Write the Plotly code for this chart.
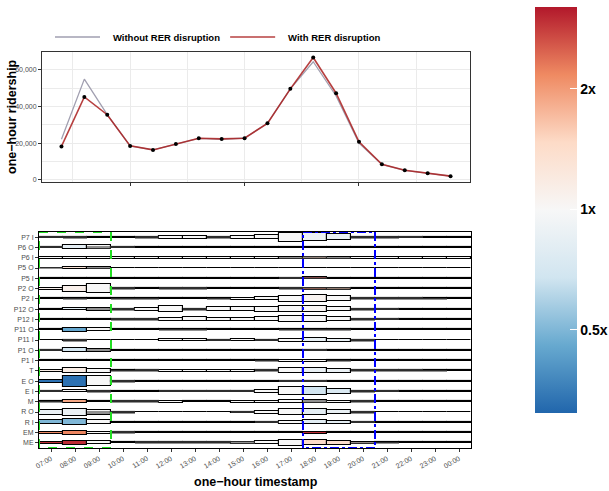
import math
import plotly.graph_objects as go

# ---------------- data ----------------
HOURS = ["07:00", "08:00", "09:00", "10:00", "11:00", "12:00", "13:00", "14:00", "15:00",
         "16:00", "17:00", "18:00", "19:00", "20:00", "21:00", "22:00", "23:00", "00:00"]

WITHOUT_RER = [22200, 55000, 35600, 18600, 16400, 19600, 22700, 22200, 22900,
               30900, 49700, 64500, 45800, 20100, 8500, 5200, 3700, 2100]
WITH_RER = [18300, 45300, 35600, 18600, 16400, 19600, 22800, 22400, 22800,
            30900, 49700, 66800, 47300, 20800, 8600, 5300, 3700, 2100]

ROWS = ["P7 I", "P6 O", "P6 I", "P5 O", "P5 I", "P2 O", "P2 I", "P12 O", "P12 I", "P11 O",
        "P11 I", "P1 O", "P1 I", "T", "E O", "E I", "M", "R O", "R I", "EM", "ME"]

# ridership per station flow and hour (with disruption, hundreds of trips)
RIDE = [
    [1, 1, 1, 1, 1, 3, 3, 1, 3, 4, 9, 8.5, 6, 1, 1, .6, .6, .6],        # P7 I
    [1, 4, 4, .6, .6, .6, .6, .6, .6, .6, .6, .6, .6, .6, .6, .6, .6, .6],  # P6 O
    [1.8, 1.8, 1.8, 1.8, 1.8, 1.8, 1.8, 1.8, 1.8, 1.8, 1.8, 1.8, 1.8, 1.8, 1.8, 1.8, 1.8, 1.8],  # P6 I
    [.6, 2, 2, .6, .6, .6, .6, .6, .6, .6, .6, .6, .6, .6, .6, .6, .6, .6],  # P5 O
    [.6, .6, .6, .6, .6, .6, .6, .6, .6, .6, .6, 2, .6, .6, .6, .6, .6, .6],  # P5 I
    [2, 6, 9, 1, 1.5, 1, 1, 1, 1, 1, 1, 2, 2, 1.5, 1.5, 1.5, 1.5, 1.5],   # P2 O
    [.6, 1, .6, .6, .6, 1, 1, 1, 2, 3, 6, 7, 5, 1, 1, 1, .6, .6],         # P2 I
    [.6, 2, 3, 1, 3, 6, 1, 4, 4, 5, 6, 6, 4, 1, .6, .6, .6, .6],          # P12 O
    [.6, .6, .6, 1, 1, 3, 4, 3, 3, 4, 6, 6, 4, 1, 1, .6, .6, .6],         # P12 I
    [1, 4, 3, .6, .6, 1, 1, .6, .6, .6, 1, 1, 1, .6, .6, .6, .6, .6],     # P11 O
    [.6, 1, .6, .6, .6, 2, 2, 1, 2, 1, 3, 4, 3, 1, .6, .6, .6, .6],       # P11 I
    [1, 4, 3, .6, .6, .6, .6, .6, .6, .6, .6, 1, .6, .6, .6, .6, .6, .6],  # P1 O
    [.6, .6, .6, .6, .6, .6, .6, .6, .6, 1, 2, 2, 1, .6, .6, .6, .6, .6],  # P1 I
    [2, 5, 4, 1, 1, 2, 2, 2, 2, 1, 5, 5, 4, 1, 1, 1, .6, .6],             # T
    [3, 11, 10, 1, .6, .6, .6, .6, .6, .6, 1, 1, .6, .6, .6, .6, .6, .6],  # E O
    [1, 2, 1, .6, .6, 1, 1, 1, 1, 3, 8, 8, 5, 1, .6, .6, .6, .6],         # E I
    [1, 3, 1, 1, 1, 2, 1, 1, 2, 2, 3, 3, 2, 1, .6, .6, .6, .6],           # M
    [5, 7, 5, 1, .6, .6, .6, .6, 1, 3, 6, 6, 4, 1, .6, .6, .6, .6],       # R O
    [4, 6, 4, .6, .6, .6, .6, .6, .6, 1, 3, 4, 3, 1, .6, .6, .6, .6],     # R I
    [2, 4, 2, 1, .6, .6, .6, .6, .6, .6, .6, 2, .6, .6, .6, .6, .6, .6],  # EM
    [2, 4, 3, 1, 1, 1, 1, 1, 2, 3, 6, 5, 4, 1.5, .6, .6, .6, .6],         # ME
]

# ratio with / without disruption
RATIO = [
    [1, 1, 1, 1, 1, 1, 1, 1, 1, 1, 1, .9, .88, 1, 1, 1, 1, 1],
    [1, .82, 1, 1, 1, 1, 1, 1, 1, 1, 1, 1, 1, 1, 1, 1, 1, 1],
    [1, 1, 1, 1, 1, 1, 1, 1, 1, 1, 1, 1.5, 1, 1, 1, 1, 1, 1],
    [1, 1.3, 1, 1, 1, 1, 1, 1, 1, 1, 1, 1, 1, 1, 1, 1, 1, 1],
    [1, 1, 1, 1, 1, 1, 1, 1, 1, 1, 1, 2.8, 1, 1, 1, 1, 1, 1],
    [1.1, 1.1, 1, 1, 1, 1, 1, 1, 1, 1, 1, 2.3, 1.7, 1, 1, 1, 1, 1],
    [1, 1, 1, 1, 1, 1, 1, 1, 1, 1, 1, 1.05, 1, 1, 1, 1, 1, 1],
    [1, .8, 1, 1, 1, 1, 1, 1, 1, 1, 1, 1.03, 1, 1, 1, 1, 1, 1],
    [1, 1, 1, 1, 1, 1, 1, 1, 1, 1, 1, 1, 1, 1, 1, 1, 1, 1],
    [.45, .45, 1, 1, 1, 1, 1, 1, 1, 1, 1, 1, 1, 1, 1, 1, 1, 1],
    [1, 1, 1, 1, 1, 1, 1, 1, 1, 1, 1, .85, .87, 1, 1, 1, 1, 1],
    [1, .7, 1, 1, 1, 1, 1, 1, 1, 1, 1, .8, 1, 1, 1, 1, 1, 1],
    [1, 1, 1, 1, 1, 1, 1, 1, 1, 1, 1, 1, 1, 1, 1, 1, 1, 1],
    [1.15, 1.15, 1, 1, 1, 1, 1, 1, 1, 1, 1, .86, .88, 1, 1, 1, 1, 1],
    [.33, .33, 1, 1, 1, 1, 1, 1, 1, 1, 1, .5, 1, 1, 1, 1, 1, 1],
    [1, 1, 1, 1, 1, 1, 1, 1, 1, 1, 1, .68, .74, .8, 1, 1, 1, 1],
    [1.9, 1.9, 1, 1, 1, 1, 1, 1, 1, 1, 1, 1, 1, 1, 1, 1, 1, 1],
    [.88, .88, 1, 1, 1, 1, 1, 1, 1, 1, 1, .82, .86, 1, 1, 1, 1, 1],
    [.5, .5, 1, 1, 1, 1, 1, 1, 1, 1, 1, .8, .82, 1, 1, 1, 1, 1],
    [2.2, 2.2, 1, 1, 1, 1, 1, 1, 1, 1, 1, 3.0, 1, 1, 1, 1, 1, 1],
    [3.0, 3.0, 1, 1, 1, 1, 1, 1, 1, 1, 1, 1.45, 1.4, 1.3, 1, 1, 1, 1],
]

# ridership without disruption where it exceeds the disrupted box (hundreds of trips)
GRAY = [
    [2, 3, 0, 0, 3, 0, 0, 3, 0, 0, 0, 0, 0, 3, 3, 2, 0, 0],
    [2, 0, 3, 2, 0, 0, 0, 0, 0, 0, 0, 0, 0, 0, 0, 0, 0, 0],
    [0, 0, 0, 0, 0, 0, 0, 0, 0, 0, 2, 3, 2, 0, 0, 0, 0, 0],
    [2, 0, 2, 0, 0, 0, 0, 0, 0, 0, 0, 0, 0, 0, 0, 0, 0, 0],
    [0, 0, 0, 0, 0, 0, 0, 0, 0, 0, 2, 2, 0, 0, 0, 0, 0, 0],
    [0, 0, 0, 3, 0, 3, 3, 0, 0, 0, 3, 3, 3, 0, 0, 0, 0, 0],
    [0, 2, 0, 2, 2, 0, 0, 2, 0, 0, 0, 0, 0, 3, 3, 3, 2, 0],
    [0, 0, 2, 3, 0, 0, 3, 0, 0, 0, 0, 0, 0, 3, 2, 0, 0, 0],
    [0, 0, 0, 3, 3, 0, 0, 0, 0, 0, 0, 0, 0, 3, 2, 0, 0, 0],
    [0, 0, 0, 0, 0, 2, 2, 0, 0, 0, 2, 2, 2, 0, 0, 0, 0, 0],
    [0, 3, 0, 0, 0, 0, 0, 2, 0, 2, 0, 0, 0, 3, 0, 0, 0, 0],
    [2, 0, 2, 0, 0, 0, 0, 0, 0, 0, 0, 2, 0, 0, 0, 0, 0, 0],
    [0, 0, 0, 0, 0, 0, 0, 0, 0, 2, 0, 0, 2, 0, 0, 0, 0, 0],
    [0, 0, 0, 2, 3, 0, 0, 0, 0, 3, 0, 0, 0, 3, 3, 3, 2, 0],
    [0, 0, 0, 3, 0, 0, 0, 0, 0, 0, 2, 2, 0, 0, 0, 0, 0, 0],
    [2, 0, 3, 0, 0, 2, 2, 2, 2, 0, 0, 0, 0, 3, 2, 0, 0, 0],
    [2, 0, 0, 3, 3, 0, 0, 0, 0, 0, 0, 3, 0, 3, 0, 0, 0, 0],
    [0, 0, 3, 3, 0, 0, 0, 0, 2, 0, 0, 0, 0, 3, 0, 0, 0, 0],
    [0, 0, 0, 0, 0, 0, 0, 0, 0, 2, 0, 0, 0, 2, 0, 0, 0, 0],
    [0, 0, 0, 3, 0, 0, 0, 0, 0, 0, 0, 0, 0, 0, 0, 0, 0, 0],
    [0, 0, 0, 0, 3, 3, 3, 3, 3, 0, 0, 0, 0, 2, 2, 0, 0, 0],
]

MORNING = ("07:00", "09:00")
EVENING = ("18:00", "20:00")
RATIO_TICKS = [0.5, 1, 2]
RATIO_LIMITS = (0.31, 3.2)

# ---------------- styling constants ----------------
ROW_SCALE = 10.3          # hundreds of trips per row height
MIN_H = 0.8               # minimum drawn height (hundreds)
FONT = "Liberation Sans"
W, H = 609, 491
# plot-area edges in screen pixels
L_S, R_S, T_S, B_S = 39, 471, 52, 448
ML, MR, MT, MB = L_S, W - R_S, T_S, H - B_S
PW, PH = W - ML - MR, H - MT - MB


def px_x(p):
    """screen x pixel -> paper fraction"""
    return (p - ML) / PW


def px_y(p):
    """screen y pixel -> paper fraction"""
    return (H - MB - p) / PH


colorscale = [[0, "#2166AC"], [1 / 6, "#67A9CF"], [2 / 6, "#D1E5F0"], [3 / 6, "#F7F7F7"],
              [4 / 6, "#FDDBC7"], [5 / 6, "#EF8A62"], [1, "#B2182B"]]
cmin, cmax = math.log2(RATIO_LIMITS[0]), math.log2(RATIO_LIMITS[1])

fig = go.Figure()
xi = list(range(len(HOURS)))
PAD = "\u00a0\u00a0\u00a0"

# ---------------- top panel ----------------
fig.add_trace(go.Scatter(x=xi, y=WITHOUT_RER, mode="lines", name=PAD + "<b>Without RER disruption</b>",
                         line=dict(color="#a19fb0", width=1.3), xaxis="x", yaxis="y"))
fig.add_trace(go.Scatter(x=xi, y=WITH_RER, mode="lines", name=PAD + "<b>With RER disruption</b>",
                         line=dict(color="rgba(170,30,30,0.85)", width=1.6), xaxis="x", yaxis="y"))
fig.add_trace(go.Scatter(x=xi, y=WITH_RER, mode="markers", showlegend=False,
                         marker=dict(color="black", size=4), xaxis="x", yaxis="y"))

# ---------------- bottom panel ----------------
bx, bbase, bh, bc = [], [], [], []
gx, gbase, gh = [], [], []
for r, name in enumerate(ROWS):
    pos = r + 1
    for c in xi:
        h = max(RIDE[r][c], MIN_H) / ROW_SCALE
        bx.append(c)
        bh.append(h)
        bbase.append(pos - h / 2)
        bc.append(math.log2(RATIO[r][c]))
        g = GRAY[r][c] / ROW_SCALE
        if g > 0:
            gx.append(c)
            gh.append(g)
            gbase.append(pos - g / 2)

fig.add_trace(go.Bar(
    x=bx, y=bh, base=bbase, width=1, xaxis="x2", yaxis="y2", showlegend=False,
    marker=dict(color=bc, colorscale=colorscale, cmin=cmin, cmax=cmax,
                line=dict(color="black", width=1.1),
                colorbar=dict(
                    tickvals=[math.log2(v) for v in RATIO_TICKS],
                    ticktext=[f"{v:g}x" for v in RATIO_TICKS],
                    tickfont=dict(size=14, color="black", family=FONT, weight="bold"),
                    ticks="inside", tickcolor="white", ticklen=7, tickwidth=1,
                    outlinewidth=0, thickness=42, thicknessmode="pixels",
                    len=406, lenmode="pixels", x=px_x(535), xanchor="left",
                    y=px_y(210), yanchor="middle", xpad=0, ypad=0))))
fig.add_trace(go.Bar(
    x=gx, y=gh, base=gbase, width=1, xaxis="x2", yaxis="y2", showlegend=False,
    marker=dict(color="rgba(75,75,75,0.6)", line=dict(width=0))))

# left-edge white marks of the colour bar
shapes = []
cb_mid, cb_half = 210, 203
for v in RATIO_TICKS:
    py = cb_mid - math.log2(v) / cmax * cb_half
    shapes.append(dict(type="line", xref="paper", yref="paper", x0=px_x(535), x1=px_x(542),
                       y0=px_y(py), y1=px_y(py), line=dict(color="white", width=1)))

# highlighted time windows
for (a, b), col, dash in [(MORNING, "#22dd22", "dash"), (EVENING, "#0000ff", "dashdot")]:
    shapes.append(dict(type="rect", xref="x2", yref="y2",
                       x0=HOURS.index(a) - 0.5, x1=HOURS.index(b) + 0.5,
                       y0=0.5, y1=len(ROWS) + 0.5,
                       line=dict(color=col, width=2, dash=dash), fillcolor="rgba(0,0,0,0)"))

tick_font = dict(size=7, color="#4d4d4d", family=FONT)
fig.update_layout(
    width=W, height=H, margin=dict(l=ML, r=MR, t=MT, b=MB, autoexpand=False),
    paper_bgcolor="white", plot_bgcolor="white",
    font=dict(family=FONT, color="black"),
    barmode="overlay", bargap=0,
    showlegend=True,
    legend=dict(orientation="h", x=px_x(50), xanchor="left", y=px_y(37), yanchor="middle",
                font=dict(size=9.5, color="black", family=FONT), bgcolor="rgba(0,0,0,0)",
                itemwidth=45),
    xaxis=dict(domain=[px_x(42), px_x(470)], anchor="y", range=[-0.85, 17.85],
               tickmode="linear", tick0=3, dtick=5, showticklabels=False,
               ticks="outside", ticklen=3, tickcolor="#333", showgrid=True, gridcolor="#ebebeb",
               gridwidth=1, zeroline=False, showline=True, linecolor="#333", linewidth=1, mirror=True,
               minor=dict(tick0=0.5, dtick=5, showgrid=True, gridcolor="#ebebeb", gridwidth=0.6)),
    yaxis=dict(domain=[px_y(182), px_y(52)], anchor="x", range=[-1100, 69800],
               tickmode="linear", tick0=0, dtick=20000, tickformat=",", tickfont=tick_font,
               ticks="outside", ticklen=3, tickcolor="#333", showgrid=True, gridcolor="#ebebeb",
               zeroline=False, showline=True, linecolor="#333", linewidth=1, mirror=True,
               minor=dict(tick0=10000, dtick=20000, showgrid=True, gridcolor="#ebebeb", gridwidth=0.6)),
    xaxis2=dict(domain=[0, 1], anchor="y2", range=[-0.5, len(HOURS) - 0.5],
                tickmode="array", tickvals=xi, ticktext=HOURS, tickangle=-30, tickfont=tick_font,
                ticks="outside", ticklen=3, tickcolor="#333", showgrid=False, zeroline=False,
                showline=True, linecolor="black", linewidth=1, mirror=True),
    yaxis2=dict(domain=[0, px_y(232)], anchor="x2", range=[len(ROWS) + 0.5, 0.5],
                tickmode="array", tickvals=list(range(1, len(ROWS) + 1)), ticktext=ROWS,
                tickfont=tick_font, ticks="outside", ticklen=3, tickcolor="#333",
                showgrid=False, zeroline=False, showline=True, linecolor="black", linewidth=1, mirror=True),
    shapes=shapes,
    annotations=[
        dict(text="<b>one\u2212hour ridership</b>", xref="paper", yref="paper", x=px_x(12), y=px_y(117),
             xanchor="center", yanchor="middle",
             textangle=-90, showarrow=False, font=dict(size=12.5, color="black", family=FONT)),
        dict(text="<b>one\u2212hour timestamp</b>", xref="paper", yref="paper", x=px_x(256), y=px_y(482),
             xanchor="center", yanchor="middle",
             showarrow=False, font=dict(size=12.5, color="black", family=FONT)),
    ],
)

fig.write_html("out.html", config={"displayModeBar": False},
               post_script="document.body.style.margin='0px';document.body.style.overflow='hidden';")
